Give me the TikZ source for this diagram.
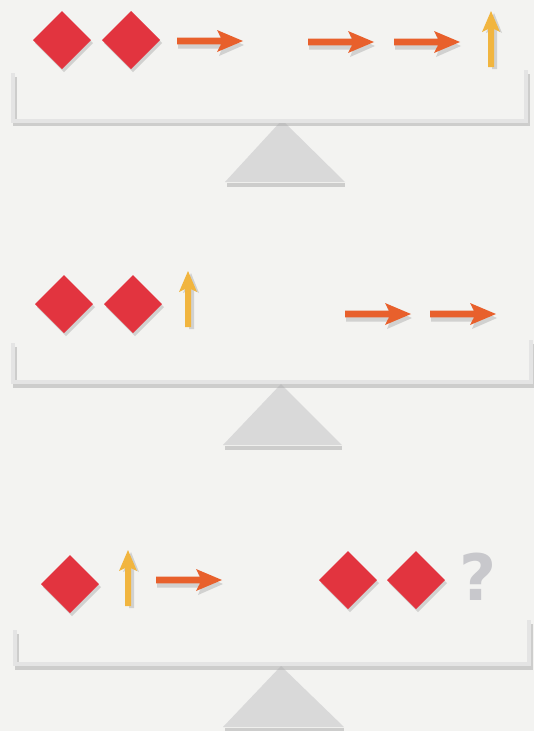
\documentclass[tikz,border=0pt]{standalone}
\usepackage{fontspec}
\newfontfamily\qfont{DejaVu Sans}
\definecolor{bg}{HTML}{F3F3F1}
\definecolor{gemred}{HTML}{E2343F}
\definecolor{arrorange}{HTML}{E8602C}
\definecolor{arryellow}{HTML}{F1B53F}
\definecolor{beamgray}{HTML}{E4E4E4}
\definecolor{shadowgray}{HTML}{A8A8A8}
\definecolor{fulcrum}{HTML}{D9D9D9}
\definecolor{qgray}{HTML}{C8C8CC}
\tikzset{
  shade/.style={fill=shadowgray,opacity=.45},
  gem/.pic={
    \fill[shade] (2,-26)--(31,3)--(2,32)--(-27,3)--cycle;
    \fill[gemred] (0,-29)--(29,0)--(0,29)--(-29,0)--cycle;
  },
  rarrow/.pic={
    \fill[shade] (1,1)--(45,1)--(42,-7)--(67,4)--(42,15)--(45,7.5)--(1,7.5)--cycle;
    \fill[arrorange] (0,-3.3)--(44,-3.3)--(40,-11)--(66,0)--(40,11)--(44,3.3)--(0,3.3)--cycle;
  },
  uarrow/.pic={
    \fill[shade] (1,2)--(1,-37)--(-5,-34)--(3,-54)--(11,-34)--(6,-37)--(6,2)--cycle;
    \fill[arryellow] (-3,0)--(-3,-38)--(-9,-35)--(0,-56)--(9,-35)--(3,-38)--(3,0)--cycle;
  },
  beam/.style={draw=beamgray,line width=4.5pt,line join=miter},
  beamshadow/.style={draw=shadowgray,opacity=.5,line width=4pt},
  fulcrumfill/.style={fill=fulcrum},
}
\begin{document}
\begin{tikzpicture}[x=1pt,y=-1pt]
\fill[bg] (0,0) rectangle (534,731);
\useasboundingbox (0,0) rectangle (534,731);

% ---------- Panel 1 ----------
\fill[shadowgray,opacity=.5] (227,183) rectangle (345,187);
\fill[fulcrumfill] (225,182)--(282,120)--(345,182)--cycle;
\draw[beamshadow] (15,77)--(15,124)--(528,124)--(528,74);
\draw[beam] (13,73)--(13,121)--(526,121)--(526,70);
\pic at (62,40) {gem};
\pic at (131,40) {gem};
\pic at (177,41) {rarrow};
\pic at (308,42) {rarrow};
\pic at (394,42) {rarrow};
\pic at (491,67) {uarrow};

% ---------- Panel 2 ----------
\fill[shadowgray,opacity=.5] (225,446) rectangle (342,450);
\fill[fulcrumfill] (223,445)--(281,384)--(342,445)--cycle;
\draw[beamshadow] (15,347)--(15,386)--(533,386)--(533,344);
\draw[beam] (13,343)--(13,382)--(531,382)--(531,340);
\pic at (64,304) {gem};
\pic at (133,304) {gem};
\pic at (188,327) {uarrow};
\pic at (345,314) {rarrow};
\pic at (430,314) {rarrow};

% ---------- Panel 3 ----------
\fill[shadowgray,opacity=.5] (225,728) rectangle (344,731);
\fill[fulcrumfill] (223,727)--(281,666)--(344,727)--cycle;
\draw[beamshadow] (17,634)--(17,668)--(531,668)--(531,624);
\draw[beam] (15,630)--(15,664)--(529,664)--(529,620);
\pic at (70,584) {gem};
\pic at (128,606) {uarrow};
\pic at (156,580) {rarrow};
\pic at (348,580) {gem};
\pic at (416,580) {gem};
\node (q) [text=qgray,inner sep=0pt] at (478,577) {\qfont\bfseries\fontsize{64}{64}\selectfont ?};
\end{tikzpicture}
\end{document}
